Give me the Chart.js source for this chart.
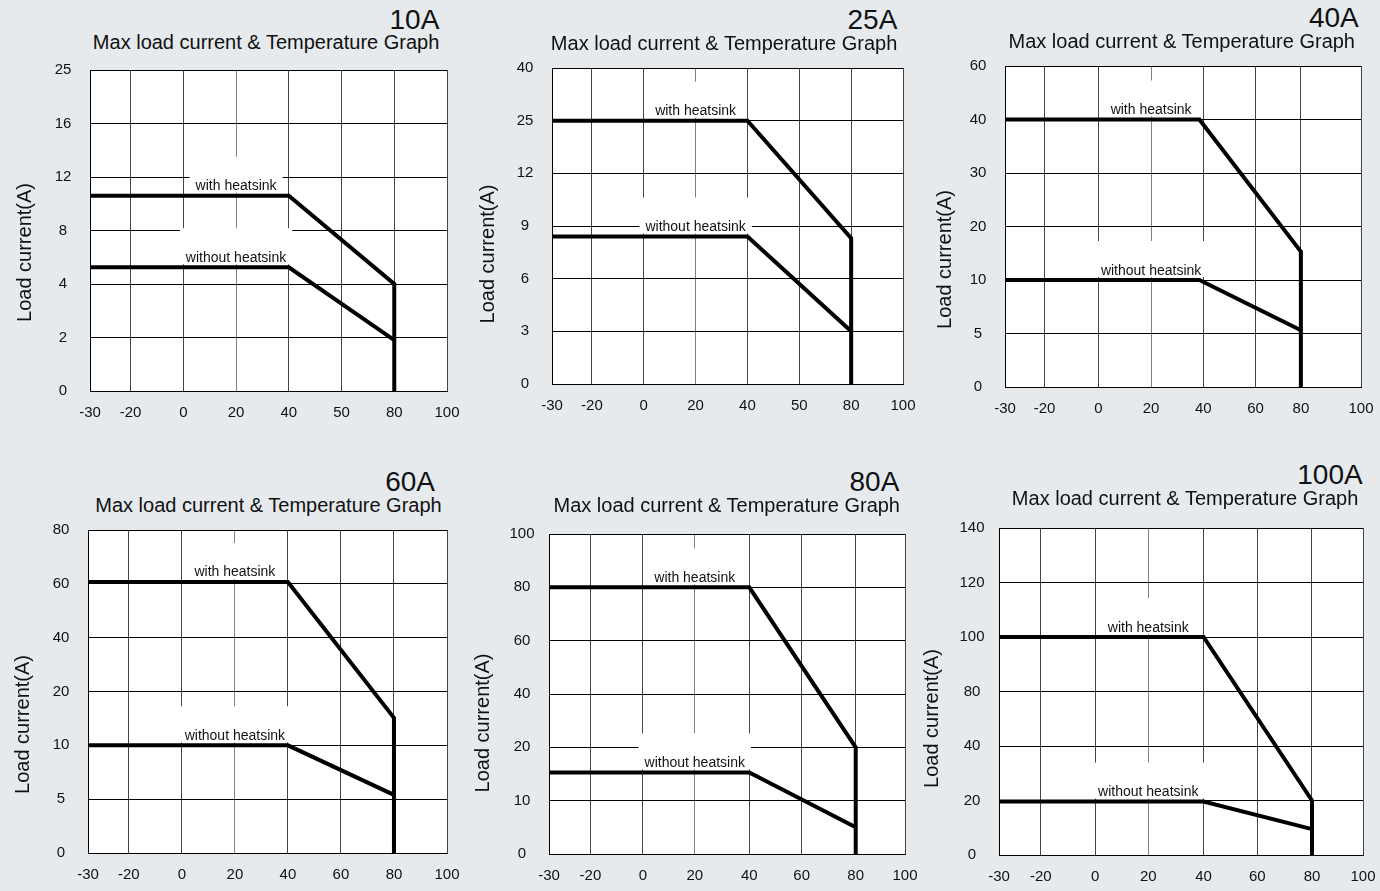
<!DOCTYPE html>
<html>
<head>
<meta charset="utf-8">
<script src="https://cdn.jsdelivr.net/npm/chart.js@4.4.1/dist/chart.umd.min.js"></script>
<style>
html,body{margin:0;padding:0;background:#e6eaed;width:1380px;height:891px;overflow:hidden;font-family:"Liberation Sans",Arial,sans-serif;}
.t{position:absolute;line-height:1;white-space:nowrap;color:#111;}
canvas{position:absolute;}
</style>
</head>
<body>
<script>
// ---------- DATA ----------
const ratings = ['10A', '25A', '40A', '60A', '80A', '100A'];
const subtitleText = 'Max load current & Temperature Graph';
const yTitleText = 'Load current(A)';
const seriesNames = ['with heatsink', 'without heatsink'];
const labelTemp = 20;

// x tick labels (temperature, °C)
const xTicksA = [-30, -20, 0, 20, 40, 50, 80, 100];
const xTicksB = [-30, -20, 0, 20, 40, 60, 80, 100];

// y tick labels (load current, A)
const yTicks10 = [0, 2, 4, 8, 12, 16, 25];
const yTicks25 = [0, 3, 6, 9, 12, 25, 40];
const yTicks40 = [0, 5, 10, 20, 30, 40, 60];
const yTicks60 = [0, 5, 10, 20, 40, 60, 80];
const yTicks80 = [0, 10, 20, 40, 60, 80, 100];
const yTicks100 = [0, 20, 40, 80, 100, 120, 140];

// temperatures of the curve vertices
const tempsWith = [-30, 40, 80, 80];
const tempsWithout = [-30, 40, 80];
const tempsWith40 = [-30, 38.5, 80, 80];
const tempsWithout40 = [-30, 38.5, 80];

// currents at those vertices
const with10 = [10.6, 10.6, 4, 0];
const without10 = [5.25, 5.25, 1.9];
const with25 = [25, 25, 8.3, 0];
const without25 = [8.4, 8.4, 3];
const with40 = [40, 40, 15.3, 0];
const without40 = [10, 10, 5.3];
const with60 = [60.7, 60.7, 15.1, 0];
const without60 = [10, 10, 5.4];
const with80 = [80, 80, 20, 0];
const without80 = [15.3, 15.3, 5];
const with100 = [100, 100, 20, 0];
const without100 = [19.6, 19.6, 9.5];

// ---------- AXIS GEOMETRY (grid slot of each x tick; y ticks are evenly spaced) ----------
const slotsStd = [0, 0.77, 1.77, 2.77, 3.77, 4.77, 5.77, 6.77];
const slots40 = [0, 0.75, 1.77, 2.77, 3.76, 4.75, 5.61, 6.75];
const slots80 = [0, 0.79, 1.79, 2.78, 3.82, 4.82, 5.85, 6.79];
const slots100 = [0, 0.78, 1.79, 2.78, 3.81, 4.81, 5.83, 6.78];

// ---------- LAYOUT ----------
const FONT = '"Liberation Sans", Arial, sans-serif';
const panels = [
  {name: ratings[0], xTicks: xTicksA, slots: slotsStd, yTicks: yTicks10, tW: tempsWith, vW: with10, tO: tempsWithout, vO: without10,
   area: {l: 90, t: 70, r: 447, b: 391}, title: {r: 439.3, b: 30}, sub: {r: 439.3, b: 49.3}, yt: {dx: 65, dy: 22}},
  {name: ratings[1], xTicks: xTicksA, slots: slotsStd, yTicks: yTicks25, tW: tempsWith, vW: with25, tO: tempsWithout, vO: without25,
   area: {l: 552, t: 68, r: 903, b: 384}, title: {r: 897.3, b: 30}, sub: {r: 897.3, b: 50}, yt: {dx: 64, dy: 28}},
  {name: ratings[2], xTicks: xTicksB, slots: slots40, yTicks: yTicks40, tW: tempsWith40, vW: with40, tO: tempsWithout40, vO: without40,
   area: {l: 1005, t: 66, r: 1361, b: 387}, title: {r: 1358.7, b: 28}, sub: {r: 1355, b: 47.7}, yt: {dx: 60, dy: 33}},
  {name: ratings[3], xTicks: xTicksB, slots: slotsStd, yTicks: yTicks60, tW: tempsWith, vW: with60, tO: tempsWithout, vO: without60,
   area: {l: 88, t: 530, r: 447, b: 853}, title: {r: 435, b: 491.7}, sub: {r: 441.7, b: 512.3}, yt: {dx: 65, dy: 33}},
  {name: ratings[4], xTicks: xTicksB, slots: slots80, yTicks: yTicks80, tW: tempsWith, vW: with80, tO: tempsWithout, vO: without80,
   area: {l: 549, t: 534, r: 905, b: 854}, title: {r: 899.3, b: 491.7}, sub: {r: 900, b: 511.7}, yt: {dx: 66, dy: 29}},
  {name: ratings[5], xTicks: xTicksB, slots: slots100, yTicks: yTicks100, tW: tempsWith, vW: with100, tO: tempsWithout, vO: without100,
   area: {l: 999, t: 528, r: 1363, b: 855}, title: {r: 1362.7, b: 485}, sub: {r: 1358.3, b: 505}, yt: {dx: 67, dy: 27}}
];

function piecewise(v, from, to) {
  for (let i = 0; i < from.length - 1; i++) {
    if (v <= from[i + 1] || i === from.length - 2) {
      const f = (v - from[i]) / (from[i + 1] - from[i]);
      return to[i] + f * (to[i + 1] - to[i]);
    }
  }
}
const mapX = (p, t) => piecewise(t, p.xTicks, p.slots);
const mapY = (p, v) => piecewise(v, p.yTicks, p.yTicks.map((_, i) => i));

const measureCtx = document.createElement('canvas').getContext('2d');
measureCtx.font = '15px ' + FONT;

function addText(txt, rightEdge, baseline, fs) {
  const d = document.createElement('div');
  d.className = 't';
  d.textContent = txt;
  d.style.fontSize = fs + 'px';
  d.style.right = (1380 - rightEdge) + 'px';
  d.style.top = (baseline - 0.8465 * fs) + 'px';
  document.body.appendChild(d);
}

panels.forEach(p => {
  addText(p.name, p.title.r, p.title.b, 28);
  addText(subtitleText, p.sub.r, p.sub.b, 20);

  const A = p.area;
  const PL = 90, PT = 32, PR = 32, PB = 40;
  const cv = document.createElement('canvas');
  const W = A.r - A.l + PL + PR, H = A.b - A.t + PT + PB;
  cv.width = W; cv.height = H;
  cv.style.left = (A.l - PL) + 'px';
  cv.style.top = (A.t - PT) + 'px';
  cv.style.width = W + 'px'; cv.style.height = H + 'px';
  document.body.appendChild(cv);

  const widest = Math.max(...p.yTicks.map(v => measureCtx.measureText(String(v)).width));
  const yPad = Math.max(2, 27 - widest / 2);

  const overlay = {
    id: 'overlay' + p.name,
    beforeDraw(chart) {
      const c = chart.ctx, a = chart.chartArea;
      c.save();
      c.fillStyle = '#ffffff';
      c.fillRect(a.left, a.top, a.right - a.left, a.bottom - a.top);
      c.restore();
    },
    beforeDatasetsDraw(chart) {
      const c = chart.ctx, xs = chart.scales.x, ys = chart.scales.y;
      c.save();
      c.font = '14px ' + FONT;
      c.textAlign = 'center';
      c.textBaseline = 'alphabetic';
      const anchors = [p.vW[0], p.vO[0]];
      seriesNames.forEach((name, i) => {
        const px = xs.getPixelForValue(mapX(p, labelTemp));
        const py = ys.getPixelForValue(mapY(p, anchors[i]));
        const w = c.measureText(name).width;
        c.fillStyle = '#ffffff';
        c.fillRect(px - w / 2 - 6, py - 39, w + 12, 36);
        c.fillStyle = '#111111';
        c.fillText(name, px, py - 5.5);
      });
      c.restore();
    },
    afterDraw(chart) {
      const c = chart.ctx, a = chart.chartArea;
      c.save();
      c.translate(a.left - p.yt.dx, (a.top + a.bottom) / 2 + p.yt.dy);
      c.rotate(-Math.PI / 2);
      c.font = '20px ' + FONT;
      c.fillStyle = '#111111';
      c.textAlign = 'center';
      c.textBaseline = 'middle';
      c.fillText(yTitleText, 0, 0);
      c.restore();
    }
  };

  const lineStyle = {
    borderColor: '#000000', borderWidth: 4, pointRadius: 0, pointHoverRadius: 0,
    tension: 0, fill: false, borderJoinStyle: 'miter', borderCapStyle: 'butt'
  };

  new Chart(cv, {
    type: 'line',
    data: {
      datasets: [
        Object.assign({label: seriesNames[0], data: p.tW.map((t, i) => ({x: mapX(p, t), y: mapY(p, p.vW[i])}))}, lineStyle),
        Object.assign({label: seriesNames[1], data: p.tO.map((t, i) => ({x: mapX(p, t), y: mapY(p, p.vO[i])}))}, lineStyle)
      ]
    },
    options: {
      responsive: false, animation: false, devicePixelRatio: 1,
      events: [],
      layout: {padding: {left: 0, top: PT, right: PR, bottom: 0}},
      plugins: {legend: {display: false}, tooltip: {enabled: false}, title: {display: false}},
      scales: {
        x: {
          type: 'linear', min: 0, max: p.slots[p.slots.length - 1],
          afterBuildTicks: s => { s.ticks = p.slots.map(v => ({value: v})); },
          afterFit: s => { s.height = PB; },
          ticks: {autoSkip: false, maxRotation: 0, minRotation: 0, padding: 13, color: '#111111',
                  font: {family: FONT, size: 15}, callback: (v, i) => String(p.xTicks[i])},
          grid: {drawTicks: false, lineWidth: 1,
                 color: c => c.index === 0 ? '#000000' : (c.index === 3 ? '#808080' : '#444444')},
          border: {display: true, color: '#000000', width: 1}
        },
        y: {
          type: 'linear', min: 0, max: p.yTicks.length - 1,
          afterBuildTicks: s => { s.ticks = p.yTicks.map((_, i) => ({value: i})); },
          afterFit: s => { s.width = PL; },
          ticks: {autoSkip: false, crossAlign: 'center', padding: yPad, color: '#111111',
                  font: {family: FONT, size: 15}, callback: (v, i) => String(p.yTicks[i])},
          grid: {drawTicks: false, lineWidth: 1, color: '#000000'},
          border: {display: true, color: '#000000', width: 1}
        }
      }
    },
    plugins: [overlay]
  });
});
</script>
</body>
</html>
